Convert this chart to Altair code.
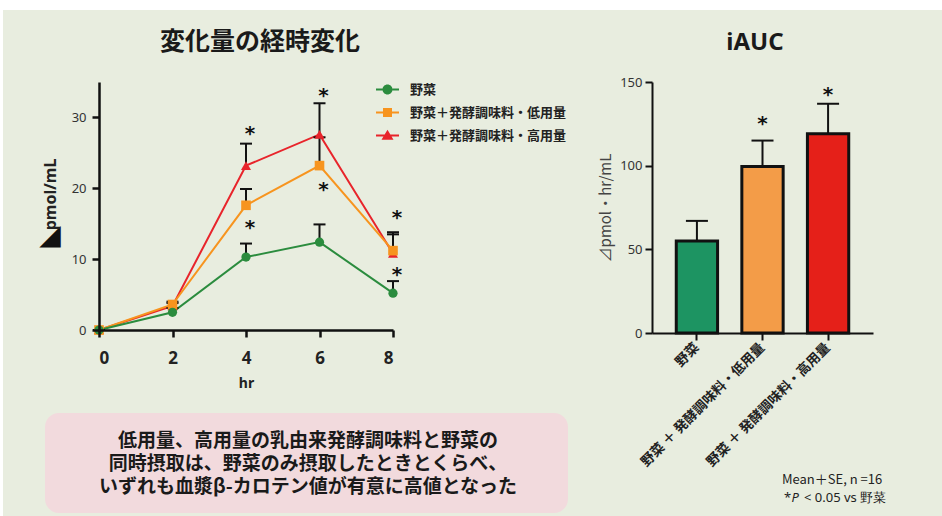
import altair as alt
import pandas as pd

# ---------------- data ----------------
hours = [0, 2, 4, 6, 8]
series_names = ["野菜", "野菜＋発酵調味料・低用量", "野菜＋発酵調味料・高用量"]
veg_mean = [0, 2.5, 10.3, 12.4, 5.2]
veg_upper = [0, 3.1, 12.2, 14.9, 6.9]
low_mean = [0, 3.6, 17.6, 23.2, 11.2]
low_upper = [0, 4.0, 19.9, 27.2, 13.8]
high_mean = [0, 3.4, 23.2, 27.6, 10.8]
high_upper = [0, 3.8, 26.3, 32.0, 13.5]
star_hours = [4, 4, 6, 6, 8, 8]
star_levels = [28.4, 15.1, 33.8, 20.4, 16.5, 8.4]
y_ticks_line = [0, 10, 20, 30]

auc_groups = series_names
auc_labels = ["野菜", "野菜 ＋ 発酵調味料・低用量", "野菜 ＋ 発酵調味料・高用量"]
auc_mean = [55, 99.5, 119]
auc_upper = [67, 115, 137]
auc_star_groups = [series_names[1], series_names[2]]
auc_star_levels = [128, 145]
y_ticks_bar = [0, 50, 100, 150]

title_left = "変化量の経時変化"
title_right = "iAUC"
y_title_line = "pmol/mL"
y_title_bar = "⊿pmol・hr/mL"
summary_lines = [
    "低用量、高用量の乳由来発酵調味料と野菜の",
    "同時摂取は、野菜のみ摂取したときとくらべ、",
    "いずれも血漿β-カロテン値が有意に高値となった",
]
note_line1 = "Mean＋SE, n =16"
note_star = "*"
note_p = "P"
note_rest = "< 0.05 vs 野菜"

# ---------------- styles ----------------
JP = "Noto Sans CJK JP"
LAT = "Noto Sans"
line_colors = ["#2b8c3e", "#f7941e", "#e8242b"]
bar_colors = ["#1d9462", "#f39c48", "#e52019"]
marker_shapes = ["circle", "square", "triangle-up"]
marker_sizes = [85, 100, 150]
legend_paths = [
    "M-2.3,-0.2H-1V0.2H-2.3Z M1,-0.2H2.3V0.2H1Z M1,0A1,1 0 1 1 -1,0A1,1 0 1 1 1,0Z",
    "M-2.3,-0.2H-0.9V0.2H-2.3Z M0.9,-0.2H2.3V0.2H0.9Z M-0.9,-0.9H0.9V0.9H-0.9Z",
    "M-2.3,-0.2H-0.6V0.2H-2.3Z M0.6,-0.2H2.3V0.2H0.6Z M0,-1.15L1.2,0.85H-1.2Z",
]
BG = "#e8eddf"
PINK = "#f2dadd"
INK = "#111111"

# ---------------- tables ----------------
rows = []
for name, means, uppers in [
    (series_names[2], high_mean, high_upper),
    (series_names[1], low_mean, low_upper),
    (series_names[0], veg_mean, veg_upper),
]:
    for h, m, u in zip(hours, means, uppers):
        rows.append({"series": name, "hr": h, "mean": m, "upper": u})
df_line = pd.DataFrame(rows)
df_star = pd.DataFrame({"hr": star_hours, "lvl": star_levels})
df_auc = pd.DataFrame({"group": auc_groups, "auc": auc_mean, "upper": auc_upper})
df_auc_star = pd.DataFrame({"group": auc_star_groups, "lvl": auc_star_levels})
one = alt.Data(values=[{}])

# ---------------- left: time course ----------------
x_scale = alt.Scale(domain=[0, 8], nice=False)
y_scale = alt.Scale(domain=[0, 35], nice=False)
x_axis = alt.Axis(values=hours, title="hr", labelFont=LAT, labelFontSize=17,
                  labelFontWeight="bold", labelColor="#222", labelPadding=13,
                  tickSize=7, tickWidth=2.5, domainWidth=2.5, domainColor=INK,
                  tickColor=INK, titleFont=LAT, titleFontSize=14,
                  titleFontWeight="bold", titleColor="#222", titleY=57,
                  titleBaseline="alphabetic", grid=False, zindex=1)
y_axis = alt.Axis(values=y_ticks_line, title=y_title_line, labelFont=LAT,
                  labelFontSize=13, labelColor="#333", labelPadding=6,
                  tickSize=7, tickWidth=2.5, domainWidth=2.5, domainColor=INK,
                  tickColor=INK, titleFont=LAT, titleFontSize=16,
                  titleFontWeight="bold", titleColor="#222", titleX=-49,
                  titleY=112, titleBaseline="middle", grid=False, zindex=1)
X = alt.X("hr:Q", scale=x_scale, axis=x_axis)
color_sc = alt.Scale(domain=series_names, range=line_colors)

bg = alt.Chart(one).mark_rect(color=BG).encode(
    x=alt.value(-96), x2=alt.value(843), y=alt.value(-72), y2=alt.value(434))
pink = alt.Chart(one).mark_rect(color=PINK, cornerRadius=14).encode(
    x=alt.value(-54), x2=alt.value(469), y=alt.value(331), y2=alt.value(431))
summary_layers = [
    alt.Chart(one).mark_text(font=JP, fontSize=19, fontWeight="bold",
                             color="#1a1a1a", align="center",
                             baseline="alphabetic").encode(
        x=alt.value(209), y=alt.value(365 + 23 * i), text=alt.value(line))
    for i, line in enumerate(summary_lines)
]
t_left = alt.Chart(one).mark_text(font=JP, fontSize=25, fontWeight="bold",
                                  color="#1a1a1a", align="center",
                                  baseline="alphabetic").encode(
    x=alt.value(161), y=alt.value(-32), text=alt.value(title_left))
tri = alt.Chart(one).mark_text(font="DejaVu Sans", fontSize=28, color="#111",
                               align="center", baseline="middle").encode(
    x=alt.value(-49), y=alt.value(154), text=alt.value("◢"))

lines = alt.Chart(df_line).mark_line(strokeWidth=2).encode(
    x=X, y=alt.Y("mean:Q", scale=y_scale, axis=y_axis),
    color=alt.Color("series:N", scale=color_sc, legend=None))
err = alt.Chart(df_line).mark_rule(color=INK, strokeWidth=2).encode(
    x=X, y=alt.Y("mean:Q", scale=y_scale, axis=y_axis), y2="upper:Q")
caps = alt.Chart(df_line).mark_tick(orient="horizontal", color=INK,
                                    thickness=2, size=12, opacity=1).encode(
    x=X, y=alt.Y("upper:Q", scale=y_scale, axis=y_axis))
pts = alt.Chart(df_line).mark_point(filled=True, opacity=1).encode(
    x=X, y=alt.Y("mean:Q", scale=y_scale, axis=y_axis),
    color=alt.Color("series:N", scale=color_sc, legend=None),
    shape=alt.Shape("series:N", scale=alt.Scale(domain=series_names, range=marker_shapes), legend=None),
    size=alt.Size("series:N", scale=alt.Scale(domain=series_names, range=marker_sizes), legend=None))
stars = alt.Chart(df_star).mark_text(text="*", font="DejaVu Sans", fontSize=20,
                                     fontWeight="bold", color=INK, dx=4, dy=11,
                                     baseline="alphabetic").encode(
    x=X, y=alt.Y("lvl:Q", scale=y_scale, axis=y_axis))

leg = alt.Legend(title=None, orient="none", legendX=282, legendY=1, padding=0,
                 symbolSize=100, labelFont=JP, labelFontSize=13,
                 labelFontWeight="bold", labelColor="#222", labelOffset=16,
                 rowPadding=9, labelLimit=400, symbolStrokeWidth=0)
legend_layer = alt.Chart(df_line).transform_filter("false").mark_point(
    filled=True, opacity=1).encode(
    x=X, y=alt.Y("mean:Q", scale=y_scale, axis=y_axis),
    color=alt.Color("series:N", scale=color_sc, legend=leg),
    shape=alt.Shape("series:N", scale=alt.Scale(domain=series_names, range=legend_paths), legend=leg))

left = alt.layer(bg, pink, *summary_layers, t_left, tri, lines, err, caps, pts,
                 stars, legend_layer).resolve_scale(
    color="independent", shape="independent").properties(width=294, height=248)

# ---------------- right: iAUC ----------------
label_expr = "datum.value == '%s' ? '%s' : datum.value == '%s' ? '%s' : '%s'" % (
    auc_groups[1], auc_labels[1], auc_groups[2], auc_labels[2], auc_labels[0])
xb_scale = alt.Scale(domain=auc_groups, paddingInner=0.37, paddingOuter=0.37)
yb_scale = alt.Scale(domain=[0, 150], nice=False)
xb_axis = alt.Axis(title=None, labelAngle=315, labelAlign="right",
                   labelBaseline="middle", labelFont=JP, labelFontSize=13.5,
                   labelFontWeight="bold", labelColor="#222", labelPadding=5,
                   labelLimit=400, tickSize=7, tickWidth=2, domainWidth=2,
                   domainColor=INK, tickColor=INK, grid=False,
                   labelExpr=label_expr, zindex=1)
yb_axis = alt.Axis(values=y_ticks_bar, title=y_title_bar, labelFont=LAT,
                   labelFontSize=13, labelColor="#333", labelPadding=3,
                   tickSize=7, tickWidth=2, domainWidth=2, domainColor=INK,
                   tickColor=INK, titleFont=JP, titleFontSize=15,
                   titleFontWeight="normal", titleColor="#444", titleX=-47,
                   titleBaseline="middle", grid=False, zindex=1)
XB = alt.X("group:N", sort=auc_groups, scale=xb_scale, axis=xb_axis)

bars = alt.Chart(df_auc).mark_bar(stroke=INK, strokeWidth=3).encode(
    x=XB, y=alt.Y("auc:Q", scale=yb_scale, axis=yb_axis),
    fill=alt.Fill("group:N", scale=alt.Scale(domain=auc_groups, range=bar_colors), legend=None))
berr = alt.Chart(df_auc).mark_rule(color=INK, strokeWidth=2).encode(
    x=XB, y=alt.Y("auc:Q", scale=yb_scale, axis=yb_axis), y2="upper:Q")
bcap = alt.Chart(df_auc).mark_tick(color=INK, thickness=2, size=22, opacity=1).encode(
    x=XB, y=alt.Y("upper:Q", scale=yb_scale, axis=yb_axis))
bstars = alt.Chart(df_auc_star).mark_text(text="*", font="DejaVu Sans", fontSize=20,
                                          fontWeight="bold", color=INK, dy=11,
                                          baseline="alphabetic").encode(
    x=XB, y=alt.Y("lvl:Q", scale=yb_scale, axis=yb_axis))
t_right = alt.Chart(one).mark_text(font=LAT, fontSize=24, fontWeight="bold",
                                   color="#1a1a1a", align="center",
                                   baseline="alphabetic").encode(
    x=alt.value(103), y=alt.value(-32), text=alt.value(title_right))
n1 = alt.Chart(one).mark_text(font=JP, fontSize=13, color="#222", align="left",
                              baseline="alphabetic").encode(
    x=alt.value(130), y=alt.value(402), text=alt.value(note_line1))
n2 = alt.Chart(one).mark_text(font=LAT, fontSize=13, color="#222", align="left",
                              baseline="alphabetic").encode(
    x=alt.value(132), y=alt.value(419.5), text=alt.value(note_star))
n3 = alt.Chart(one).mark_text(font=LAT, fontSize=13, color="#222", align="left",
                              fontStyle="italic", baseline="alphabetic").encode(
    x=alt.value(139.5), y=alt.value(419.5), text=alt.value(note_p))
n4 = alt.Chart(one).mark_text(font=LAT, fontSize=13, color="#222", align="left",
                              baseline="alphabetic").encode(
    x=alt.value(152), y=alt.value(419.5), text=alt.value(note_rest))

right = alt.layer(berr, bars, bcap, bstars, t_right, n1, n2, n3, n4).properties(
    width=221, height=251)

chart = alt.hconcat(left, right, spacing=259, bounds="flush").resolve_scale(
    color="independent", shape="independent", size="independent",
    fill="independent").properties(
    padding={"left": 3, "top": 10, "right": 0, "bottom": 0},
    background="#ffffff").configure_view(stroke=None)

chart.save("out.html", embed_options={"renderer": "svg", "actions": False})
